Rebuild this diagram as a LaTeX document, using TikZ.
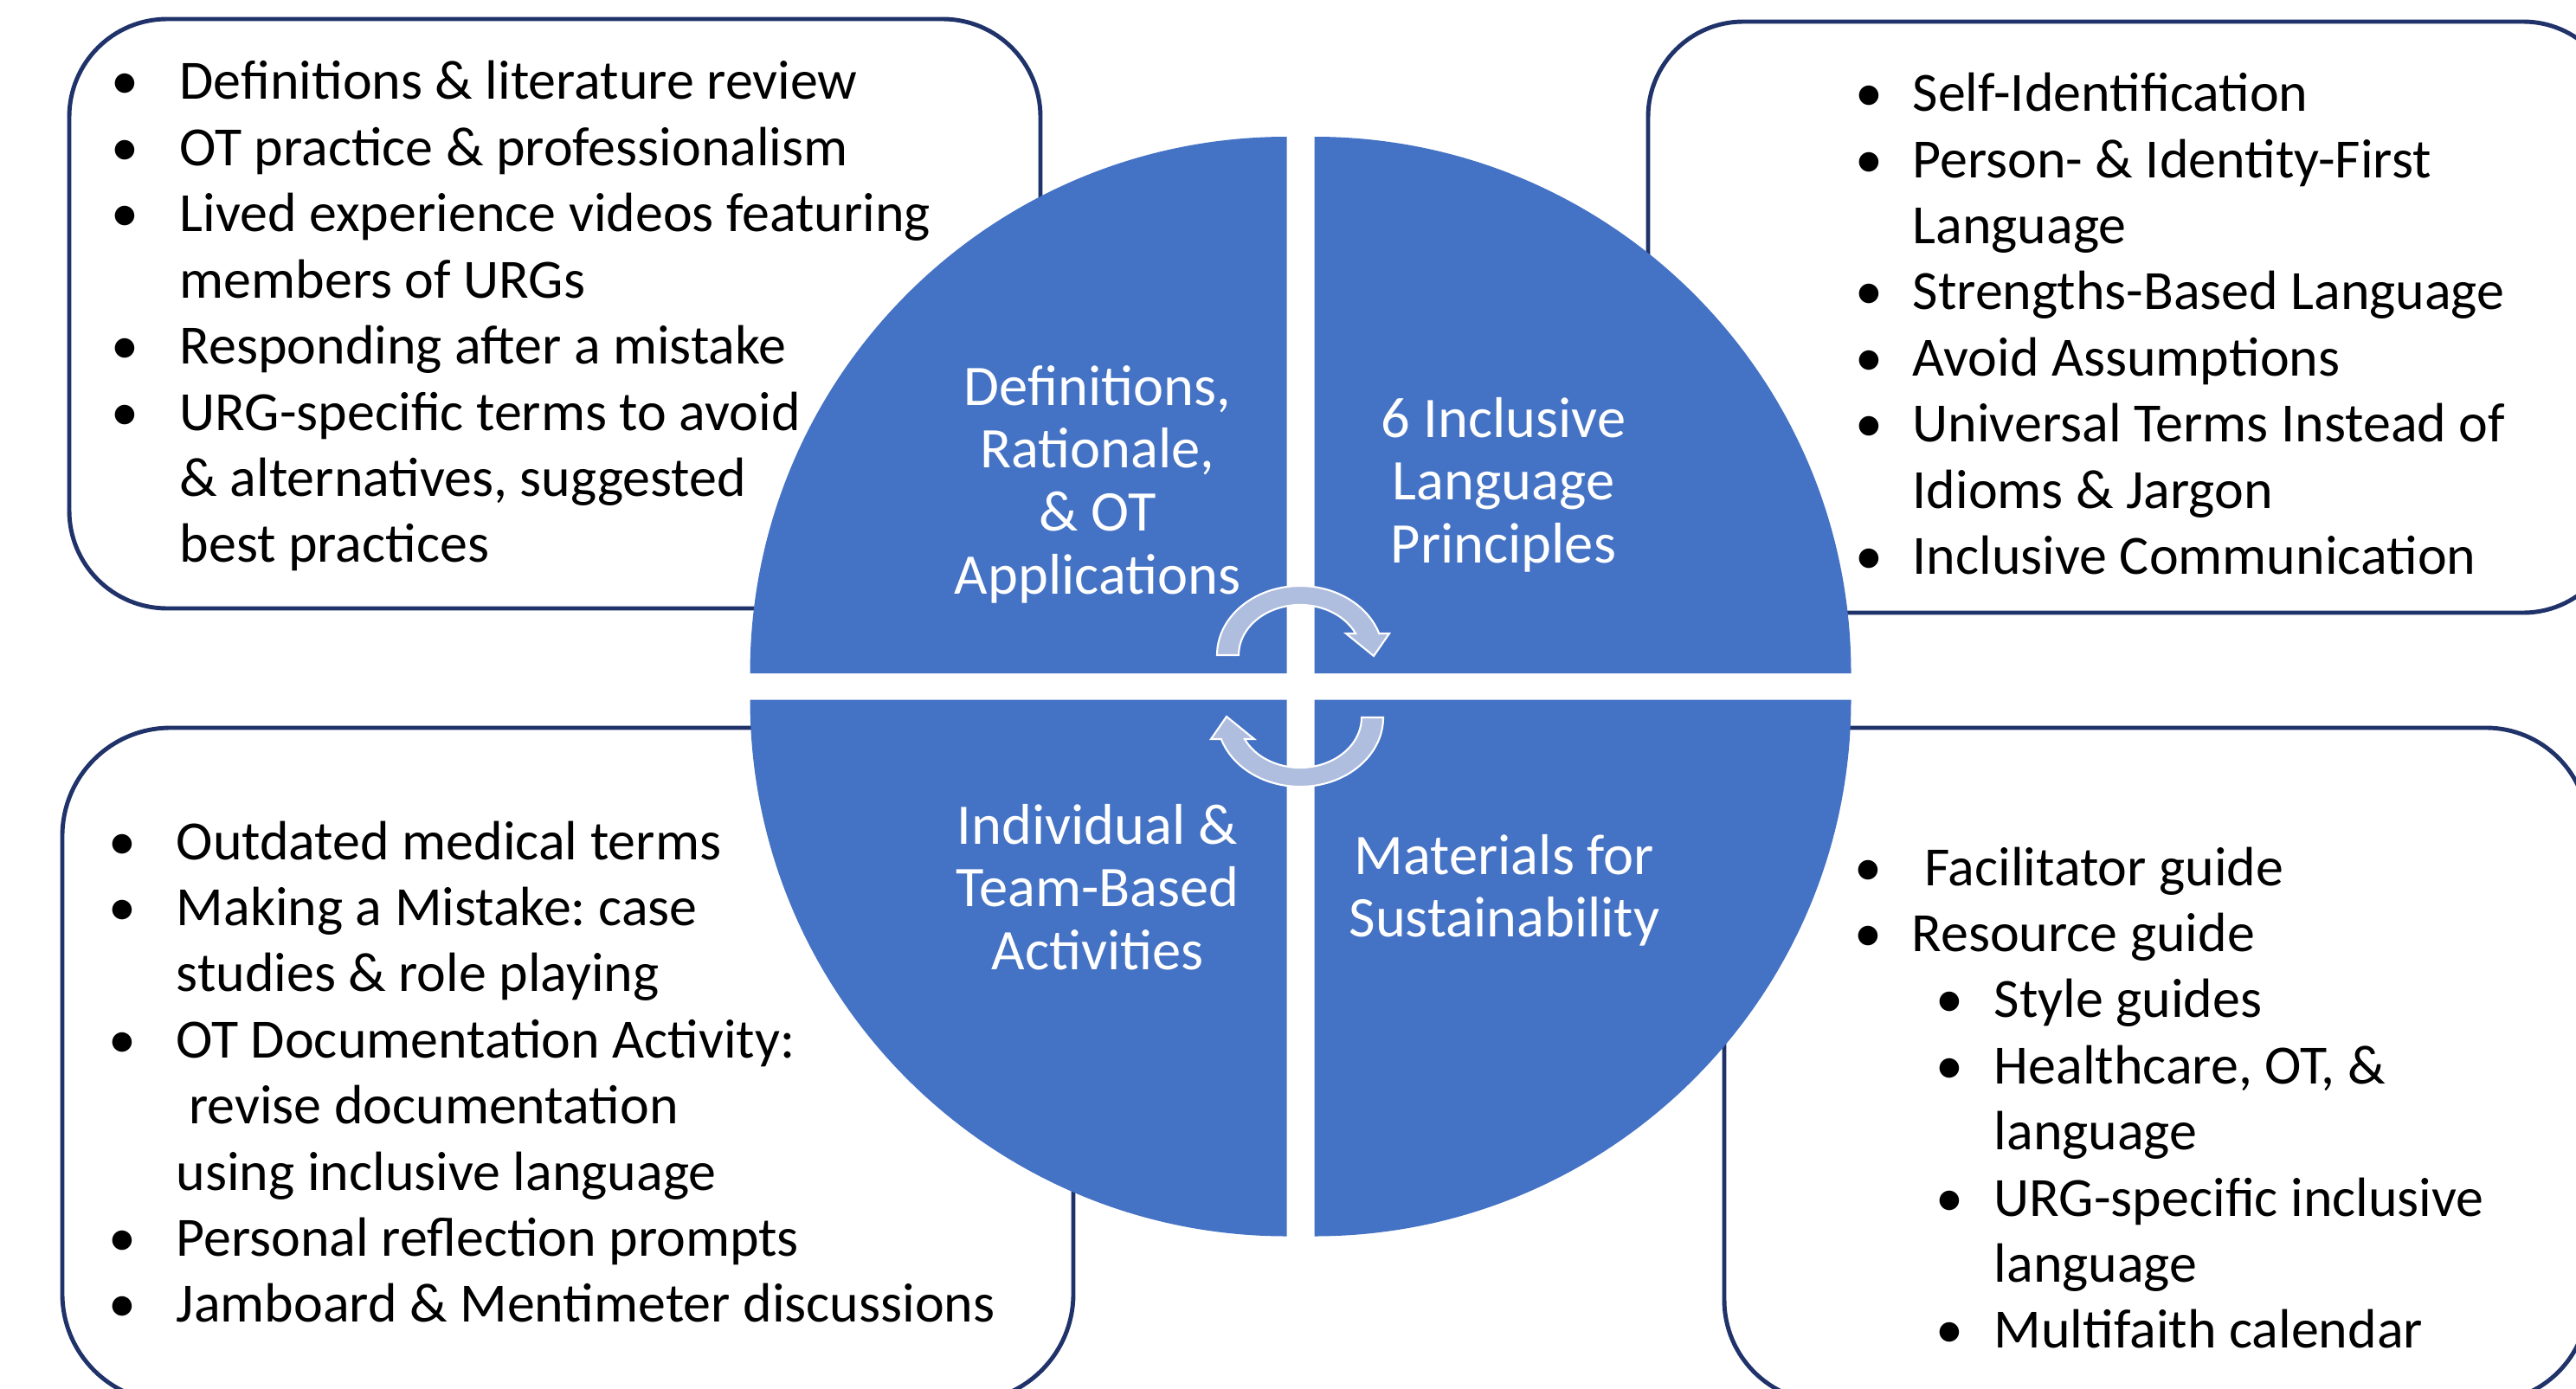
\documentclass[tikz,border=0pt]{standalone}
\usepackage{fontspec}
\setmainfont{Carlito}
\frenchspacing

\definecolor{quadblue}{RGB}{68,114,196}
\definecolor{cyclefill}{RGB}{175,189,223}
\definecolor{boxnavy}{RGB}{31,50,105}

\tikzset{
  listbox/.style={draw=boxnavy, line width=1.4pt, fill=white},
  listtext/.style={inner sep=0pt, anchor=base west, font=\fontsize{18.2pt}{21.74pt}\selectfont},
  quadtext/.style={inner sep=0pt, anchor=base, text=white, font=\fontsize{18.9pt}{20.75pt}\selectfont},
  cyclearrow/.style={fill=cyclefill, draw=white, line width=0.6pt}
}

% bullet centred on the start point, text after a gap
\newcommand{\itm}[2]{\makebox[0pt]{\textbullet}\hspace*{#1}#2}
\newcommand{\cnt}[2]{\hspace*{#1}#2}
% one curved arrow, drawn round its own centre
\newcommand{\cyclepath}{(-0.71,0) -- (-0.96,0) arc[start angle=180, end angle=18.2, x radius=0.96, y radius=0.80]
  -- (1.03,0.25) -- (0.85,-0.01) -- (0.53,0.25) -- (0.641,0.25)
  arc[start angle=25.5, end angle=180, x radius=0.71, y radius=0.58] -- cycle}

\begin{document}
\begin{tikzpicture}

\useasboundingbox (0,0) rectangle (29.76,-16.05);
\clip (0,0) rectangle (29.76,-16.05);
\fill[white] (0,0) rectangle (29.76,-16.05);

% the four outer boxes
\draw[listbox, rounded corners=1.13cm] (0.80,-0.22) rectangle (12.02,-7.03);
\draw[listbox, rounded corners=1.10cm] (19.04,-0.25) rectangle (30.25,-7.08);
\draw[listbox, rounded corners=1.25cm] (0.72,-8.41) rectangle (12.40,-16.20);
\draw[listbox, rounded corners=1.18cm] (19.92,-8.41) rectangle (29.90,-16.20);

% quarter discs
\foreach \cx/\cy/\a in {14.865/-7.78/90, 15.185/-7.78/0, 14.865/-8.085/180, 15.185/-8.085/270}
  \fill[quadblue] (\cx,\cy) -- ++(\a:6.2) arc[start angle=\a, delta angle=90, radius=6.2] -- cycle;

% cycle arrows
\begin{scope}[shift={(15.02,-7.57)}]
\filldraw[cyclearrow] \cyclepath; %top
\end{scope}
\begin{scope}[shift={(15.02,-8.29)}, rotate=180]
\filldraw[cyclearrow] \cyclepath; %bottom
\end{scope}

% quadrant titles
\node[quadtext] (defs) at (12.68,-4.68) {\begin{tabular}[t]{@{}c@{}}Definitions,\\Rationale,\\\& OT\\Applications\end{tabular}};
\node[quadtext] (principles) at (17.37,-5.05) {\begin{tabular}[t]{@{}c@{}}6 Inclusive\\Language\\Principles\end{tabular}};
\node[quadtext] (activities) at (12.68,-9.75) {\begin{tabular}[t]{@{}c@{}}Individual \&\\Team-Based\\Activities\end{tabular}};
\node[quadtext] (materials) at (17.38,-10.10) {\begin{tabular}[t]{@{}c@{}}Materials for\\Sustainability\end{tabular}};

% box contents
\node[listtext] (defslist) at (1.435,-1.15) {\begin{tabular}[t]{@{}l@{}}
\itm{0.635cm}{Definitions \& literature review}\\
\itm{0.635cm}{OT practice \& professionalism}\\
\itm{0.635cm}{Lived experience videos featuring}\\
\cnt{0.635cm}{members of URGs}\\
\itm{0.635cm}{Responding after a mistake}\\
\itm{0.635cm}{URG-specific terms to avoid}\\
\cnt{0.635cm}{\& alternatives, suggested}\\
\cnt{0.635cm}{best practices}
\end{tabular}};

\node[listtext] (principleslist) at (21.59,-1.286) {\begin{tabular}[t]{@{}l@{}}
\itm{0.50cm}{Self-Identification}\\
\itm{0.50cm}{Person- \& Identity-First}\\
\cnt{0.50cm}{Language}\\
\itm{0.50cm}{Strengths-Based Language}\\
\itm{0.50cm}{Avoid Assumptions}\\
\itm{0.50cm}{Universal Terms Instead of}\\
\cnt{0.50cm}{Idioms \& Jargon}\\
\itm{0.50cm}{Inclusive Communication}
\end{tabular}};

\node[listtext] (activitieslist) at (1.41,-9.93) {\begin{tabular}[t]{@{}l@{}}
\itm{0.62cm}{Outdated medical terms}\\
\itm{0.62cm}{Making a Mistake: case}\\
\cnt{0.62cm}{studies \& role playing}\\
\itm{0.62cm}{OT Documentation Activity:}\\
\cnt{0.62cm}{\ revise documentation}\\
\cnt{0.62cm}{using inclusive language}\\
\itm{0.62cm}{Personal reflection prompts}\\
\itm{0.62cm}{Jamboard \& Mentimeter discussions}
\end{tabular}};

\node[listtext] (materialslist) at (21.58,-10.23) {\begin{tabular}[t]{@{}l@{}}
\itm{0.50cm}{\ Facilitator guide}\\
\itm{0.50cm}{Resource guide}\\
\cnt{0.94cm}{\itm{0.51cm}{Style guides}}\\
\cnt{0.94cm}{\itm{0.51cm}{Healthcare, OT, \&}}\\
\cnt{1.45cm}{language}\\
\cnt{0.94cm}{\itm{0.51cm}{URG-specific inclusive}}\\
\cnt{1.45cm}{language}\\
\cnt{0.94cm}{\itm{0.51cm}{Multifaith calendar}}
\end{tabular}};

\end{tikzpicture}
\end{document}
